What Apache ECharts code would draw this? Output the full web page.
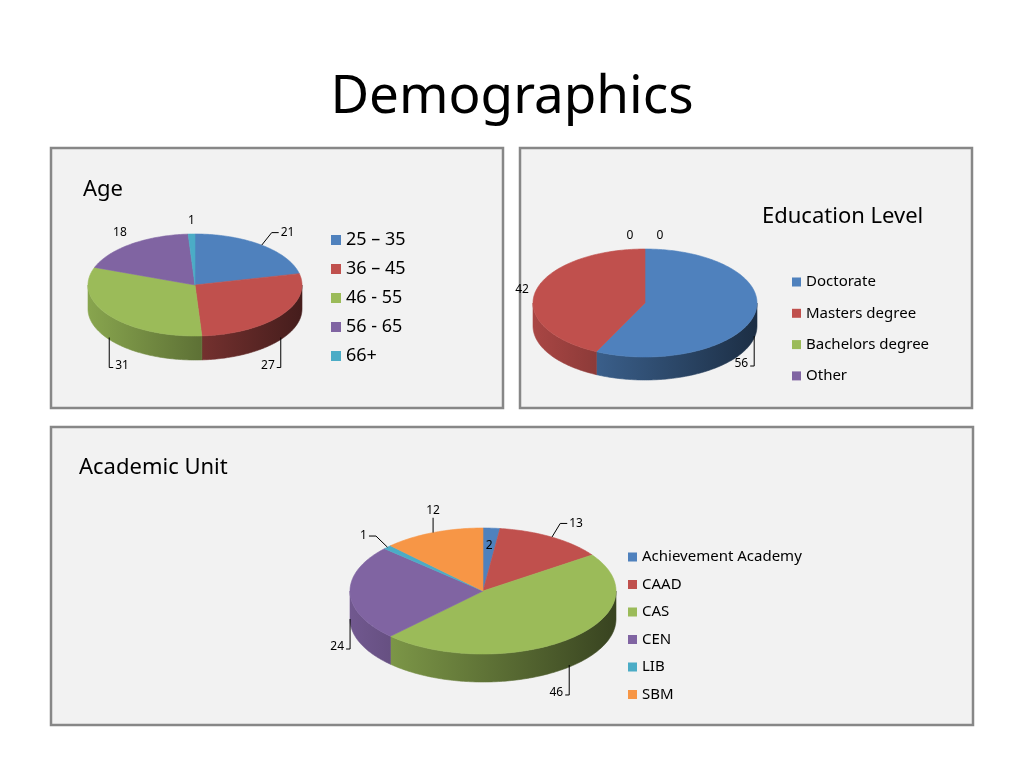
<!DOCTYPE html>
<html><head><meta charset="utf-8">
<script src="https://cdn.jsdelivr.net/npm/echarts@6/dist/echarts.min.js"></script>
<style>html,body{margin:0;padding:0;background:#fff}#c{width:1024px;height:768px}</style>
</head><body><div id="c"></div>
<script>
// ---- data ----
const ageCategories = ['25 – 35', '36 – 45', '46 - 55', '56 - 65', '66+'];
const ageValues = [21, 27, 31, 18, 1];
const eduCategories = ['Doctorate', 'Masters degree', 'Bachelors degree', 'Other'];
const eduValues = [56, 42, 0, 0];
const unitCategories = ['Achievement Academy', 'CAAD', 'CAS', 'CEN', 'LIB', 'SBM'];
const unitValues = [2, 13, 46, 24, 1, 12];
const palette = ['#4F81BD', '#C0504D', '#9BBB59', '#8064A2', '#4BACC6', '#F79646'];

const FONT = '"Noto Sans", "Open Sans", sans-serif';

// ---- layout of the three 3-D pies ----
const pies = [
  { names: ageCategories, values: ageValues, cx: 195, cy: 285, rx: 107, ry: 51, depth: 24, leaders: [0, 1, 2], inside: [] },
  { names: eduCategories, values: eduValues, cx: 645, cy: 303, rx: 112, ry: 54, depth: 23, leaders: [0], inside: [] },
  { names: unitCategories, values: unitValues, cx: 483, cy: 591, rx: 133, ry: 63, depth: 28, leaders: [1, 2, 3, 4, 5], inside: [0] }
];

function shade(hex, f) {
  const n = parseInt(hex.slice(1), 16);
  const r = Math.round(((n >> 16) & 255) * f), g = Math.round(((n >> 8) & 255) * f), b = Math.round((n & 255) * f);
  return 'rgb(' + r + ',' + g + ',' + b + ')';
}

function makeRender(pie, idx) {
  return function (params, api) {
    const total = pie.values.reduce((a, b) => a + b, 0);
    let before = 0;
    for (let k = 0; k < idx; k++) before += pie.values[k];
    const v = api.value(0);
    const a0 = before / total * 360, a1 = (before + v) / total * 360;
    const color = palette[idx];
    const cx = pie.cx, cy = pie.cy, rx = pie.rx, ry = pie.ry, depth = pie.depth;
    const pt = (deg, dy) => { const r = deg * Math.PI / 180; return [cx + rx * Math.sin(r), cy - ry * Math.cos(r) + (dy || 0)]; };
    const children = [];
    if (v > 0) {
      const top = [[cx, cy]];
      const steps = Math.max(2, Math.ceil(a1 - a0));
      for (let s = 0; s <= steps; s++) top.push(pt(a0 + (a1 - a0) * s / steps));
      children.push({ type: 'polygon', z2: 10, shape: { points: top }, style: { fill: color, stroke: color, lineWidth: 0.6 } });
      const s0 = Math.max(a0, 90), s1 = Math.min(a1, 270);
      if (s1 > s0) {
        const upper = [], lower = [];
        const n = Math.max(2, Math.ceil(s1 - s0));
        for (let s = 0; s <= n; s++) { const d = s0 + (s1 - s0) * s / n; upper.push(pt(d)); lower.push(pt(d, depth)); }
        const grad = { type: 'linear', x: cx - rx, y: 0, x2: cx + rx, y2: 0, global: true,
          colorStops: [{ offset: 0, color: shade(color, 0.88) }, { offset: 0.5, color: shade(color, 0.62) }, { offset: 1, color: shade(color, 0.36) }] };
        children.push({ type: 'polygon', z2: 1, shape: { points: upper.concat(lower.reverse()) }, style: { fill: grad, stroke: grad, lineWidth: 0.6 } });
      }
    }
    // data label
    const mid = (a0 + a1) / 2, mr = mid * Math.PI / 180;
    const sn = Math.sin(mr), cs = Math.cos(mr);
    const front = cs < 0;
    let lx, ly, align, valign;
    const hasLeader = pie.leaders.indexOf(idx) >= 0;
    if (pie.inside.indexOf(idx) >= 0) {
      lx = cx + rx * 0.72 * sn; ly = cy - ry * 0.72 * cs; align = 'center'; valign = 'middle';
    } else if (hasLeader && front) {
      // vertical leader dropping below the pie wall
      const P = [cx + rx * sn, cy - ry * cs + depth - 2];
      const L = 30;
      const dir = Math.abs(sn) > 0.98 ? (sn > 0 ? 1 : -1) : (sn > 0 ? -1 : 1); // +1: label to the right
      const end = [P[0], P[1] + L];
      const tick = [P[0] + dir * 4, P[1] + L];
      children.push({ type: 'polyline', z2: 20, shape: { points: [P, end, tick] }, style: { stroke: '#000', lineWidth: 1, fill: null } });
      lx = tick[0] + dir * 2; ly = end[1] - 2;
      align = dir > 0 ? 'left' : 'right'; valign = 'middle';
    } else {
      const P = [cx + rx * sn, cy - ry * cs + (front ? depth : 0)];
      const off = hasLeader ? 16 : 7;
      lx = P[0] + off * sn; ly = P[1] - off * cs;
      align = Math.abs(sn) < 0.45 ? 'center' : (sn > 0 ? 'left' : 'right');
      valign = Math.abs(cs) < 0.3 ? 'middle' : (cs > 0 ? 'bottom' : 'top');
      if (v === 0) {
        const zeros = [];
        pie.values.forEach((val, k) => { if (val === 0) zeros.push(k); });
        lx += (zeros.indexOf(idx) - (zeros.length - 1) / 2) * 30;
      }
      if (hasLeader) {
        const pts = [P, [lx, ly]];
        if (align !== 'center') {
          const d = align === 'left' ? 1 : -1;
          pts.push([lx + d * 7, ly]);
          lx += d * 9;
          valign = 'middle';
        } else {
          pts[1] = [P[0], ly];
          lx = P[0]; ly -= 1;
        }
        children.push({ type: 'polyline', z2: 20, shape: { points: pts }, style: { stroke: '#000', lineWidth: 1, fill: null } });
      }
    }
    children.push({ type: 'text', z2: 21, x: lx, y: ly,
      style: { text: String(v), fill: '#000', font: '12px ' + FONT, align: align, verticalAlign: valign } });
    return { type: 'group', children: children };
  };
}

const series = [];
pies.forEach(p => p.names.forEach((nm, i) => {
  series.push({ type: 'custom', name: nm, coordinateSystem: 'none', renderItem: makeRender(p, i),
    data: [[p.values[i]]], itemStyle: { color: palette[i] }, silent: true, animation: false });
}));

const legendBase = { orient: 'vertical', icon: 'rect', selectedMode: false, padding: 0, itemStyle: { borderWidth: 0 } };

const chart = echarts.init(document.getElementById('c'));
chart.setOption({
  animation: false,
  graphic: [
    { type: 'rect', z: -5, shape: { x: 51, y: 148, width: 452, height: 260 }, style: { fill: '#f2f2f2', stroke: '#878787', lineWidth: 2.5 } },
    { type: 'rect', z: -5, shape: { x: 520, y: 148, width: 452, height: 260 }, style: { fill: '#f2f2f2', stroke: '#878787', lineWidth: 2.5 } },
    { type: 'rect', z: -5, shape: { x: 51, y: 427, width: 922, height: 298 }, style: { fill: '#f2f2f2', stroke: '#878787', lineWidth: 2.5 } },
    { type: 'text', x: 512, y: 98, style: { text: 'Demographics', font: '53px ' + FONT, fill: '#000', align: 'center', verticalAlign: 'middle', textAlign: 'center', textVerticalAlign: 'middle' } },
    { type: 'text', x: 83, y: 190, style: { text: 'Age', font: '22px ' + FONT, fill: '#000', align: 'left', verticalAlign: 'middle', textAlign: 'left', textVerticalAlign: 'middle' } },
    { type: 'text', x: 762, y: 217, style: { text: 'Education Level', font: '22px ' + FONT, fill: '#000', align: 'left', verticalAlign: 'middle', textAlign: 'left', textVerticalAlign: 'middle' } },
    { type: 'text', x: 79, y: 468, style: { text: 'Academic Unit', font: '22px ' + FONT, fill: '#000', align: 'left', verticalAlign: 'middle', textAlign: 'left', textVerticalAlign: 'middle' } }
  ],
  legend: [
    Object.assign({}, legendBase, { data: ageCategories, left: 331, top: 230, itemWidth: 10, itemHeight: 10, itemGap: 9,
      textStyle: { fontSize: 18, lineHeight: 20, fontFamily: FONT, color: '#000' } }),
    Object.assign({}, legendBase, { data: eduCategories, left: 792, top: 273, itemWidth: 9, itemHeight: 9, itemGap: 13.3,
      textStyle: { fontSize: 15, lineHeight: 18, fontFamily: FONT, color: '#000' } }),
    Object.assign({}, legendBase, { data: unitCategories, left: 628, top: 548, itemWidth: 9, itemHeight: 9, itemGap: 9.5,
      textStyle: { fontSize: 15, lineHeight: 18, fontFamily: FONT, color: '#000' } })
  ],
  series: series
});
</script>
</body></html>
